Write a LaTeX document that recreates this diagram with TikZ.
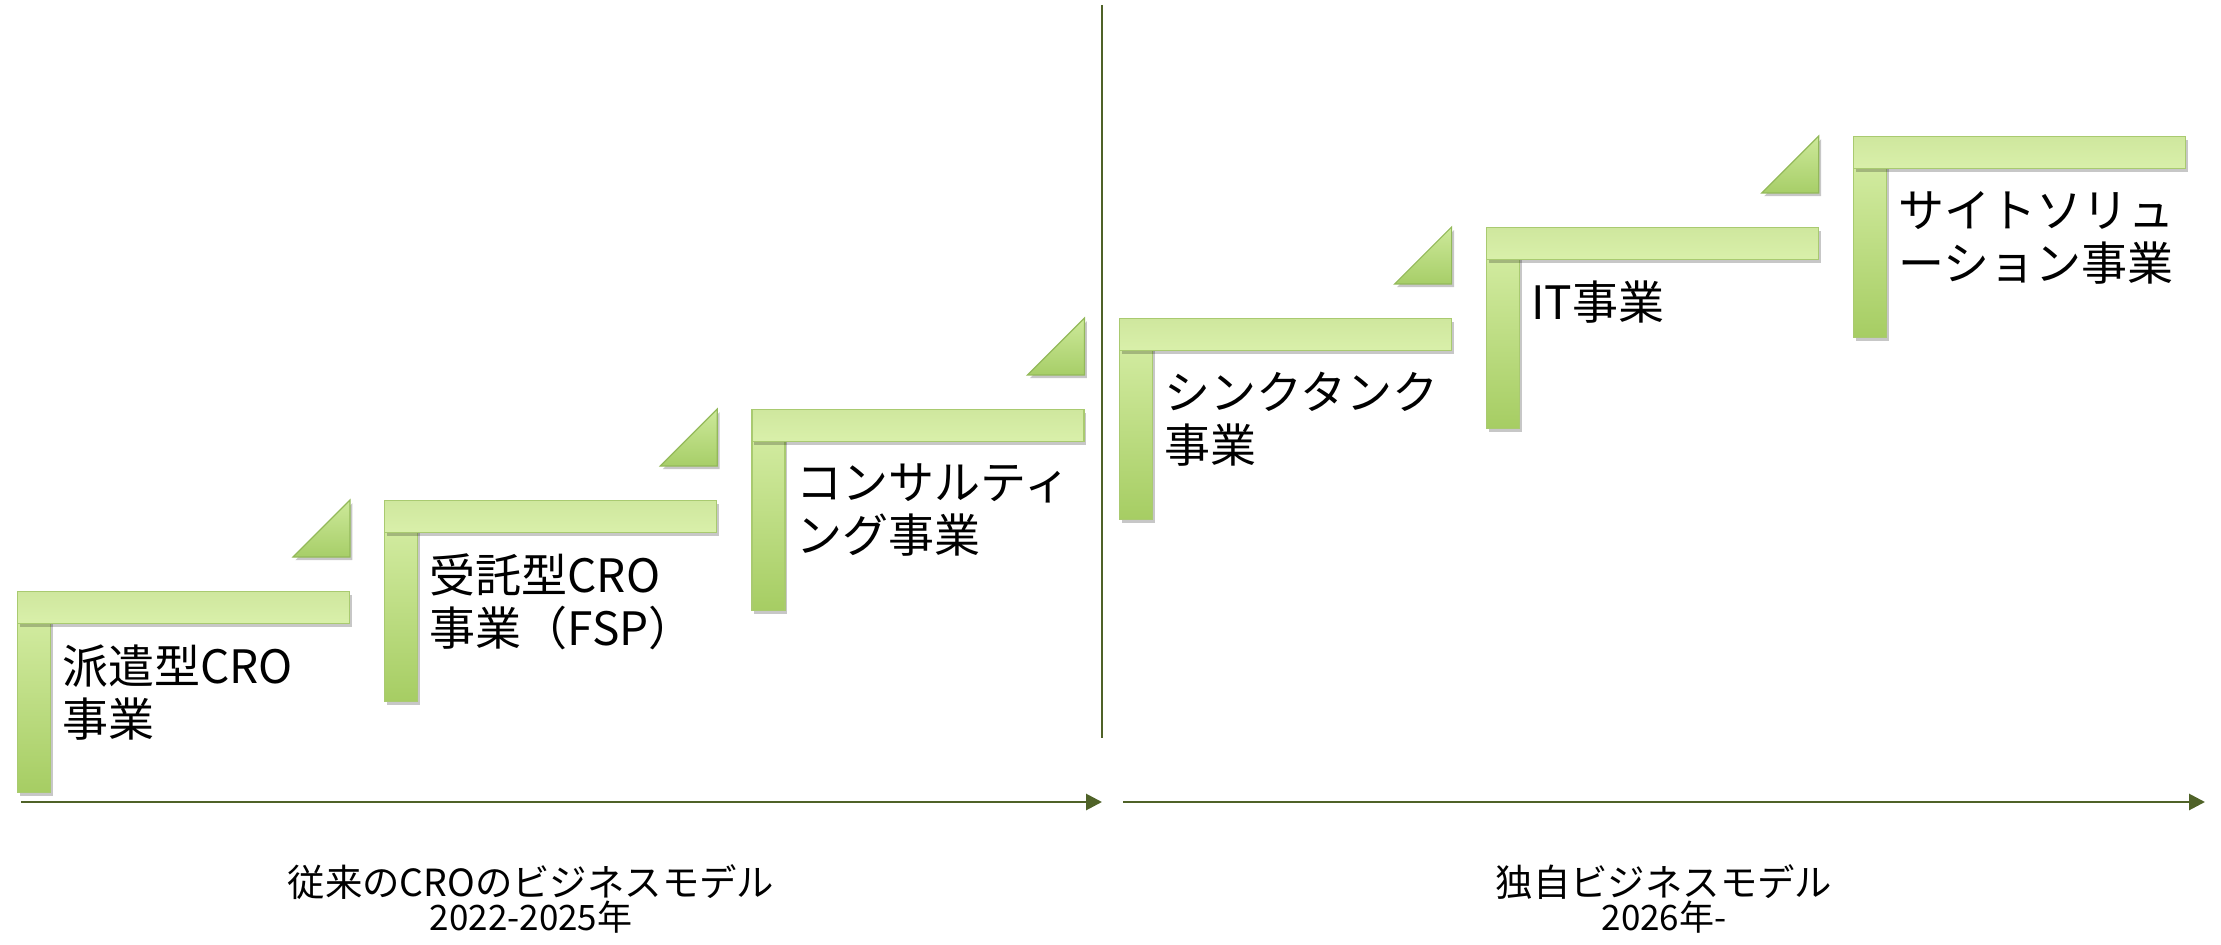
\documentclass[tikz,border=0pt]{standalone}
\usepackage{fontspec}
\setmainfont{Noto Sans CJK JP}
\usetikzlibrary{arrows.meta,shadows}
\definecolor{axisgreen}{HTML}{4F6228}
\definecolor{barline}{HTML}{A9CA70}
\definecolor{barlight}{HTML}{D9F0AA}
\definecolor{barmid}{HTML}{CFE79E}
\definecolor{bardark}{HTML}{A6CD63}
\definecolor{trilight}{HTML}{CDE99A}
\definecolor{tridark}{HTML}{A7CE68}
\definecolor{triline}{HTML}{93B95A}
\begin{document}
\begin{tikzpicture}[x=0.5pt,y=0.5pt,
  barshadow/.style={drop shadow={shadow xshift=1.2pt,shadow yshift=-1.6pt,opacity=0.22,fill=black}},
  hbar/.style={draw=barline,line width=0.6pt,top color=barmid,bottom color=barlight,barshadow,
    rectangle,inner sep=0pt,minimum width=166pt,minimum height=16pt,anchor=north west},
  vbar/.style={draw=barline,line width=0.6pt,top color=barlight,bottom color=bardark,barshadow,
    rectangle,inner sep=0pt,minimum width=16.5pt,minimum height=100.5pt,anchor=north west},
  tri/.style={draw=triline,line width=0.6pt,top color=trilight,bottom color=tridark,barshadow},
  steptext/.style={font=\fontsize{23}{26.5}\selectfont,align=left,inner sep=0pt,anchor=west},
  eratext/.style={align=center,inner sep=0pt},
  axis/.style={draw=axisgreen,line width=1.4pt,-{Triangle[length=8pt,width=8pt]}},
  divider/.style={draw=axisgreen,line width=1pt}]
\newcommand\eraA{\fontsize{18.7}{24.5}\selectfont}
\newcommand\eraB{\fontsize{17.5}{24.5}\selectfont}
\useasboundingbox (0,0) rectangle (2221,944);
% steps
\foreach \i/\txt/\dy in {1/{派遣型CRO\\事業}/101.5,
                          2/{受託型CRO\\事業（FSP）}/101.5,
                          3/{コンサルティ\\ング事業}/101.5,
                          4/{シンクタンク\\事業}/101.5,
                          5/{IT事業}/75,
                          6/{サイトソリュ\\ーション事業}/101.5}{
  \pgfmathsetmacro\L{17+367.2*(\i-1)}
  \pgfmathsetmacro\T{353+91*(\i-1)}
  \node[vbar] (v\i) at (\L,\T) {};
  \node[hbar] (h\i) at (\L,\T) {};
  \node[steptext] (t\i) at (\L+45,\T-\dy) {\txt};
}
% triangles
\foreach \i in {1,...,5}{
  \pgfmathsetmacro\L{17+367.2*(\i-1)}
  \pgfmathsetmacro\T{353+91*(\i-1)}
  \path[tri] (\L+276,\T+34) -- (\L+333,\T+34) -- (\L+333,\T+91) -- cycle;
}
% divider and axes
\coordinate (dtop) at (1102,939);
\coordinate (dbot) at (1102,206);
\draw[divider] (dtop) -- (dbot);
\coordinate (a1s) at (21,142);
\coordinate (a1e) at (1102,142);
\coordinate (a2s) at (1123,142);
\coordinate (a2e) at (2205,142);
\draw[axis] (a1s) -- (a1e);
\draw[axis] (a2s) -- (a2e);
% era labels
\node[eratext] (era1) at (531,45) {\eraA 従来のCROのビジネスモデル\\\eraB 2022-2025年};
\node[eratext] (era2) at (1664,45) {\eraA 独自ビジネスモデル\\\eraB 2026年-};
\end{tikzpicture}
\end{document}
